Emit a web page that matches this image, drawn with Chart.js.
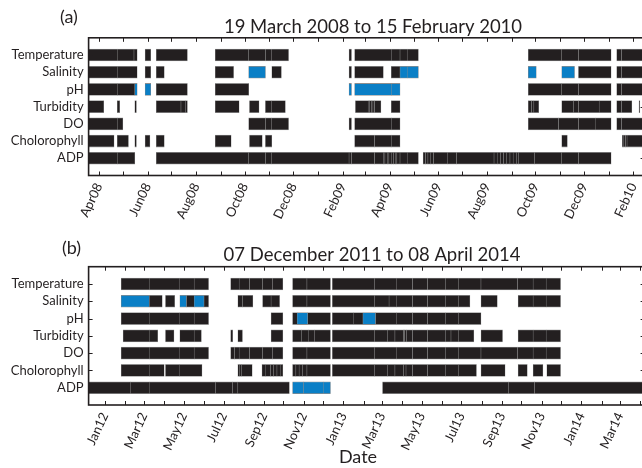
<!DOCTYPE html>
<html>
<head>
<meta charset="utf-8">
<script src="https://cdn.jsdelivr.net/npm/chart.js@4.4.1/dist/chart.umd.min.js"></script>
<style>
  html, body { margin: 0; padding: 0; background: #fff; overflow: hidden; }
  .panel { position: absolute; left: 0; width: 660px; height: 234px; }
  #panelA { top: 0; }
  #panelB { top: 234px; }
</style>
</head>
<body>
<div class="panel" id="panelA"><canvas id="chartA"></canvas></div>
<div class="panel" id="panelB"><canvas id="chartB"></canvas></div>
<script>
// Variables (rows, top to bottom)
const variables = ['Temperature', 'Salinity', 'pH', 'Turbidity', 'DO', 'Cholorophyll', 'ADP'];

// ---- Panel (a): 19 March 2008 to 15 February 2010 ----
// each segment = [start, ...file breaks..., end]
const rangeA = ['2008-03-19', '2010-02-15'];
const tickMonthsA = ['2008-04-01', '2008-06-01', '2008-08-01', '2008-10-01', '2008-12-01', '2009-02-01',
  '2009-04-01', '2009-06-01', '2009-08-01', '2009-10-01', '2009-12-01', '2010-02-01'];
const tickLabelsA = ['Apr08', 'Jun08', 'Aug08', 'Oct08', 'Dec08', 'Feb09', 'Apr09', 'Jun09', 'Aug09', 'Oct09', 'Dec09', 'Feb10'];

const tempA = [
  ['2008-03-19', '2008-04-24', '2008-05-15', '2008-05-19'], ['2008-05-29', '2008-06-05'], ['2008-06-12', '2008-07-21'],
  ['2008-08-25', '2008-10-06', '2008-10-27', '2008-11-04', '2008-11-25'], ['2009-02-09', '2009-02-12'],
  ['2009-02-16', '2009-04-03', '2009-04-14', '2009-04-23', '2009-05-07'],
  ['2009-09-22', '2009-11-03', '2009-11-24', '2010-01-04'], ['2010-01-11', '2010-01-17', '2010-02-15']
];
const salA = [
  ['2008-03-19', '2008-04-24', '2008-05-19'], ['2008-05-29', '2008-06-05'], ['2008-06-12', '2008-06-22'],
  ['2008-08-25', '2008-09-17'], ['2008-11-04', '2008-11-16'], ['2009-02-09', '2009-02-12'],
  ['2009-02-16', '2009-03-24'], ['2009-04-03', '2009-04-14'], ['2009-11-24', '2010-01-04'],
  ['2010-01-11', '2010-01-17', '2010-02-15']
];
const salAFlag = [
  ['2008-10-06', '2008-10-27'], ['2009-04-14', '2009-04-23', '2009-05-07'], ['2009-09-22', '2009-10-02'], ['2009-11-03', '2009-11-19']
];
const phA = [
  ['2008-03-19', '2008-04-24', '2008-05-16'], ['2008-06-12', '2008-07-21'], ['2008-08-25', '2008-10-06'],
  ['2009-09-22', '2009-11-03', '2009-11-24', '2010-01-04'], ['2010-01-11', '2010-01-17', '2010-02-15']
];
const phAFlag = [
  ['2008-05-16', '2008-05-19'], ['2008-05-29', '2008-06-05'], ['2009-02-09', '2009-02-12'], ['2009-02-16', '2009-04-03', '2009-04-14']
];
const turbA = [
  ['2008-03-19', '2008-04-07'], ['2008-04-24', '2008-04-27'], ['2008-05-16', '2008-05-18'],
  ['2008-06-12', '2008-07-13', '2008-07-19', '2008-07-21'], ['2008-08-25', '2008-09-24'], ['2008-10-07', '2008-10-19'],
  ['2008-10-27', '2008-11-04', '2008-11-21'],
  ['2009-02-17', '2009-03-05', '2009-03-07', '2009-03-09', '2009-03-11', '2009-03-13', '2009-03-21'],
  ['2009-04-03', '2009-04-14'], ['2009-09-22', '2009-09-26', '2009-09-29', '2009-10-05'],
  ['2009-11-03', '2009-11-18', '2009-11-24', '2009-12-20', '2010-01-04'], ['2010-01-11', '2010-01-17', '2010-01-30'],
  ['2010-02-08', '2010-02-09']
];
const doA = [
  ['2008-03-19', '2008-04-24', '2008-05-01'], ['2008-10-06', '2008-10-27', '2008-11-04', '2008-11-25'],
  ['2009-02-09', '2009-02-12'], ['2009-02-16', '2009-04-03', '2009-04-14'],
  ['2009-09-22', '2009-10-30', '2009-11-24', '2009-12-15', '2010-01-04'], ['2010-01-11', '2010-01-17', '2010-02-15']
];
const chlA = [
  ['2008-03-19', '2008-04-20'], ['2008-04-24', '2008-05-08'], ['2008-05-16', '2008-05-18'], ['2008-05-29', '2008-06-04'],
  ['2008-06-12', '2008-06-22'], ['2008-08-25', '2008-09-14'], ['2008-10-07', '2008-10-23'], ['2008-10-27', '2008-11-04'],
  ['2009-02-16', '2009-03-13', '2009-04-03', '2009-04-14'], ['2009-11-03', '2009-11-10'],
  ['2010-01-18', '2010-01-20', '2010-01-22', '2010-01-24', '2010-02-15']
];
const adpA = [
  ['2008-03-19', '2008-04-24', '2008-05-16'],
  ['2008-06-12', '2008-10-06', '2008-10-27', '2008-11-04', '2009-02-09', '2009-02-12', '2009-03-13', '2009-03-24',
    '2009-03-26', '2009-03-29', '2009-03-31', '2009-04-03', '2009-04-06', '2009-04-08', '2009-04-10', '2009-04-14',
    '2009-04-23', '2009-05-07'],
  ['2009-05-13', '2009-05-16', '2009-05-19', '2009-05-22', '2009-05-26', '2009-06-13', '2009-06-24', '2009-08-10',
    '2009-08-14', '2009-08-18', '2009-08-22', '2009-08-26', '2009-08-30', '2009-09-03', '2009-09-07', '2009-09-10',
    '2009-09-30', '2009-11-03', '2009-11-24', '2010-01-04']
];

// ---- Panel (b): 07 December 2011 to 08 April 2014 ----
const rangeB = ['2011-12-07', '2014-04-08'];
const tickMonthsB = ['2012-01-01', '2012-03-01', '2012-05-01', '2012-07-01', '2012-09-01', '2012-11-01', '2013-01-01',
  '2013-03-01', '2013-05-01', '2013-07-01', '2013-09-01', '2013-11-01', '2014-01-01', '2014-03-01'];
const tickLabelsB = ['Jan12', 'Mar12', 'May12', 'Jul12', 'Sep12', 'Nov12', 'Jan13', 'Mar13', 'May13', 'Jul13', 'Sep13', 'Nov13', 'Jan14', 'Mar14'];

const tempB = [
  ['2012-01-26', '2012-03-09', '2012-04-24', '2012-05-17', '2012-06-08'],
  ['2012-07-12', '2012-07-25', '2012-08-10', '2012-08-30', '2012-09-14', '2012-09-30'],
  ['2012-10-15', '2012-11-06', '2012-12-12'],
  ['2012-12-15', '2013-02-18', '2013-03-23', '2013-04-17', '2013-05-10', '2013-06-07', '2013-06-27', '2013-07-31',
    '2013-09-25', '2013-10-19', '2013-11-08', '2013-11-30']
];
const salB = [
  ['2012-03-09', '2012-03-29'], ['2012-04-03', '2012-04-17'], ['2012-05-05', '2012-05-17'], ['2012-06-01', '2012-06-08'],
  ['2012-07-23', '2012-07-30', '2012-08-15'], ['2012-08-30', '2012-09-12', '2012-09-25'],
  ['2012-10-15', '2012-11-06', '2012-12-12'],
  ['2012-12-15', '2013-02-18', '2013-03-12', '2013-03-23', '2013-04-17', '2013-05-10', '2013-06-07', '2013-06-27', '2013-07-14'],
  ['2013-07-31', '2013-08-25'], ['2013-09-26', '2013-10-19', '2013-11-08', '2013-11-30']
];
const salBFlag = [
  ['2012-01-26', '2012-03-09'], ['2012-04-25', '2012-05-05'], ['2012-05-17', '2012-06-01']
];
const phB = [
  ['2012-01-26', '2012-03-09', '2012-04-24', '2012-05-17', '2012-06-08'], ['2012-09-12', '2012-09-30'],
  ['2012-10-15', '2012-10-22'], ['2012-11-07', '2012-12-12'], ['2012-12-15', '2013-01-16', '2013-01-31'],
  ['2013-02-19', '2013-03-23', '2013-04-17', '2013-05-10', '2013-06-07', '2013-06-27', '2013-07-31']
];
const phBFlag = [
  ['2012-10-22', '2012-11-07'], ['2013-01-31', '2013-02-19']
];
const turbB = [
  ['2012-01-29', '2012-03-09', '2012-03-22'], ['2012-04-03', '2012-04-16'], ['2012-04-25', '2012-05-17', '2012-05-28'],
  ['2012-07-12', '2012-07-15'], ['2012-07-23', '2012-07-30'], ['2012-09-12', '2012-09-30'],
  ['2012-10-15', '2012-10-29', '2012-11-08', '2012-11-18', '2012-12-12'],
  ['2012-12-15', '2013-02-18', '2013-03-10', '2013-03-21', '2013-04-03', '2013-04-05', '2013-04-08', '2013-04-17',
    '2013-05-10', '2013-06-07', '2013-06-15', '2013-06-27', '2013-07-20'],
  ['2013-07-31', '2013-09-02'], ['2013-09-26', '2013-10-19', '2013-11-08', '2013-11-30']
];
const doB = [
  ['2012-01-26', '2012-03-09', '2012-04-24', '2012-05-17', '2012-06-08'],
  ['2012-07-12', '2012-07-18', '2012-07-25', '2012-08-10', '2012-08-30', '2012-09-14', '2012-09-30'],
  ['2012-10-15', '2012-11-06', '2012-12-12'],
  ['2012-12-15', '2013-02-18', '2013-03-23', '2013-04-17', '2013-05-10', '2013-06-07', '2013-06-27', '2013-07-31',
    '2013-09-25', '2013-10-19', '2013-11-08', '2013-11-30']
];
const chlB = [
  ['2012-01-26', '2012-03-09', '2012-04-01'], ['2012-04-03', '2012-04-24', '2012-05-29'],
  ['2012-07-23', '2012-07-26', '2012-07-29', '2012-08-14'],
  ['2012-08-29', '2012-09-03', '2012-09-11', '2012-09-16', '2012-09-21', '2012-09-26', '2012-09-30'],
  ['2012-10-15', '2012-10-20', '2012-10-25', '2012-10-30', '2012-11-06', '2012-12-12'],
  ['2012-12-15', '2013-02-18', '2013-03-10', '2013-03-21', '2013-04-03', '2013-04-07', '2013-04-17', '2013-05-10',
    '2013-06-07', '2013-06-27', '2013-07-24'],
  ['2013-07-31', '2013-09-06'], ['2013-09-26', '2013-10-10'], ['2013-10-19', '2013-11-03'], ['2013-11-09', '2013-11-30']
];
const adpB = [
  ['2011-12-07', '2012-02-09', '2012-03-09', '2012-06-19', '2012-07-15', '2012-07-23', '2012-10-10'],
  ['2013-03-02', '2013-09-11', '2013-10-21', '2014-04-08']
];
const adpBFlag = [
  ['2012-10-15', '2012-11-01', '2012-12-01', '2012-12-12']
];

// ---- drawing ----
const INK = '#231f20';
const BLUE = '#0a7fc6';
const EDGE = '#8e8e8e';
const FONT = 'Lato, "Open Sans", sans-serif';

const day = s => Date.parse(s + 'T00:00:00Z') / 86400000;

function pieces(segs, label, flag) {
  const out = [];
  segs.forEach(s => {
    for (let i = 0; i < s.length - 1; i++) out.push({ x: [day(s[i]), day(s[i + 1])], y: label, flag });
  });
  return out;
}

// frame, inward ticks and panel texts
const framePlugin = {
  id: 'frame',
  afterDatasetsDraw(chart, args, o) {
    const { ctx, chartArea: a, scales: { x, y } } = chart;
    ctx.save();
    ctx.strokeStyle = INK;
    ctx.lineWidth = 1;
    ctx.beginPath();
    const st = new Date(x.min * 86400000);
    const yr = st.getUTCFullYear();
    let mo = st.getUTCMonth() + 1;
    for (;;) {
      const v = Date.UTC(yr, mo, 1) / 86400000;
      if (v > x.max) break;
      const px = Math.round(x.getPixelForValue(v)) + 0.5;
      ctx.moveTo(px, a.top); ctx.lineTo(px, a.top + 4);
      ctx.moveTo(px, a.bottom); ctx.lineTo(px, a.bottom - 4);
      mo++;
    }
    variables.forEach((_, i) => {
      const py = Math.round(y.getPixelForValue(i + 1)) + 0.5;
      ctx.moveTo(a.left, py); ctx.lineTo(a.left + 4, py);
      ctx.moveTo(a.right, py); ctx.lineTo(a.right - 4, py);
    });
    ctx.stroke();
    ctx.lineWidth = 1.6;
    ctx.strokeRect(a.left, a.top, a.right - a.left, a.bottom - a.top);

    ctx.fillStyle = INK;
    ctx.textBaseline = 'alphabetic';
    ctx.textAlign = 'left';
    ctx.font = '18px ' + FONT;
    ctx.fillText(o.tag, o.tagX, o.tagY);
    ctx.textAlign = 'center';
    ctx.font = '18.5px ' + FONT;
    ctx.fillText(o.title, o.titleX, o.titleY);
    if (o.axisTitle) {
      ctx.font = '18px ' + FONT;
      ctx.fillText(o.axisTitle, o.axisX, o.axisY);
    }
    ctx.restore();
  }
};

function makeChart(id, rows, range, tickMonths, tickLabels, layout, text) {
  const data = [];
  rows.forEach(([label, good, flagged]) => {
    data.push(...pieces(good, label, false), ...pieces(flagged, label, true));
  });
  const tickVals = tickMonths.map(day);
  return new Chart(document.getElementById(id), {
    type: 'bar',
    data: {
      labels: ['', ...variables, ''],
      datasets: [{
        data,
        backgroundColor: c => (c.raw && c.raw.flag ? BLUE : INK),
        borderColor: EDGE,
        borderWidth: { top: 0.8, bottom: 0.8, left: 0.5, right: 0.5 },
        borderSkipped: false,
        barThickness: 12
      }]
    },
    options: {
      indexAxis: 'y',
      responsive: true,
      maintainAspectRatio: false,
      animation: false,
      layout: { padding: { top: layout.top, right: layout.right, left: 0, bottom: 0 } },
      plugins: {
        legend: { display: false },
        tooltip: { enabled: false },
        frame: text
      },
      scales: {
        x: {
          type: 'linear',
          position: 'bottom',
          min: day(range[0]),
          max: day(range[1]),
          grid: { display: false, drawTicks: false },
          border: { display: false },
          afterBuildTicks: s => { s.ticks = tickVals.map(v => ({ value: v })); },
          afterFit: s => { s.height = layout.xHeight; },
          ticks: {
            autoSkip: false,
            minRotation: 65,
            maxRotation: 65,
            padding: 5,
            color: INK,
            font: { family: FONT, size: 13 },
            callback: (v, i) => tickLabels[i]
          }
        },
        y: {
          type: 'category',
          offset: false,
          grid: { display: false, drawTicks: false },
          border: { display: false },
          afterFit: s => { s.width = 88.6; },
          ticks: {
            autoSkip: false,
            padding: 5,
            color: INK,
            font: { family: FONT, size: 13 }
          }
        }
      }
    },
    plugins: [framePlugin]
  });
}

makeChart('chartA', [
  ['Temperature', tempA, []], ['Salinity', salA, salAFlag], ['pH', phA, phAFlag], ['Turbidity', turbA, []],
  ['DO', doA, []], ['Cholorophyll', chlA, []], ['ADP', adpA, []]
], rangeA, tickMonthsA, tickLabelsA,
  { top: 37.8, right: 15.4, xHeight: 58.5 },
  { tag: '(a)', tagX: 60, tagY: 23, title: '19 March 2008 to 15 February 2010', titleX: 373, titleY: 33.3 });

makeChart('chartB', [
  ['Temperature', tempB, []], ['Salinity', salB, salBFlag], ['pH', phB, phBFlag], ['Turbidity', turbB, []],
  ['DO', doB, []], ['Cholorophyll', chlB, []], ['ADP', adpB, adpBFlag]
], rangeB, tickMonthsB, tickLabelsB,
  { top: 32.7, right: 15.4, xHeight: 63 },
  { tag: '(b)', tagX: 62, tagY: 20, title: '07 December 2011 to 08 April 2014', titleX: 372, titleY: 26.7,
    axisTitle: 'Date', axisX: 358, axisY: 229 });
</script>
</body>
</html>
